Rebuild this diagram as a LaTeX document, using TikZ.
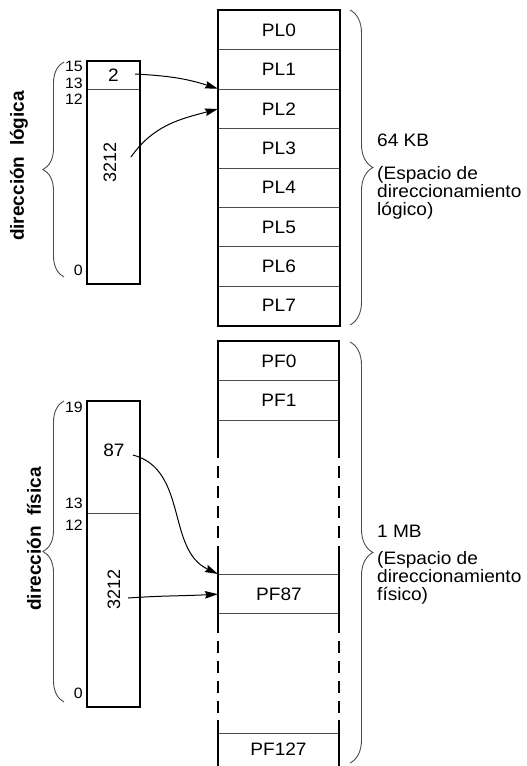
\documentclass[tikz,border=0pt]{standalone}
\usepackage{fontspec}
\setmainfont{Liberation Sans}
\newfontfamily\widefont{Liberation Sans}[FakeStretch=1.06]
\usetikzlibrary{arrows.meta,decorations.pathreplacing}
\begin{document}
\begin{tikzpicture}[x=1pt,y=-1pt,
  thickline/.style={line width=2.5pt, line join=miter},
  rowbox/.style={draw=black!70, line width=0.9pt, minimum width=121pt, minimum height=39.4pt, inner sep=0pt, anchor=north west, font=\widefont\fontsize{18}{18}\selectfont},
  fieldbox/.style={draw=black!70, line width=0.9pt, minimum width=52pt, inner sep=0pt, anchor=north west, font=\widefont\fontsize{18}{18}\selectfont},
  lbl/.style={font=\widefont\fontsize{18}{18}\selectfont, inner sep=0pt},
  num/.style={font=\widefont\fontsize{15}{15}\selectfont, inner sep=0pt, anchor=east},
  rot/.style={font=\fontsize{18}{18}\selectfont, rotate=90, inner sep=0pt},
  side/.style={font=\bfseries\fontsize{19}{19}\selectfont, rotate=90, inner sep=0pt},
  para/.style={font=\widefont\fontsize{18}{18}\selectfont, align=left, anchor=west, inner sep=0pt},
  arr/.style={line width=1pt, -{Stealth[length=13pt,width=7.5pt,inset=1.5pt]}},
  brc/.style={draw=black!70, line width=0.9pt, decorate, decoration={brace, amplitude=#1}},
  dashside/.style={line width=2.5pt, dash pattern=on 12pt off 8pt, dash phase=12pt}
]
\useasboundingbox (0,0) rectangle (527,766);

% logical pages
\foreach \i in {0,...,7} {
  \node[rowbox] (PL\i) at (218,{10+39.375*\i}) {PL\i};
}
\draw[thickline] (PL0.north west) rectangle (PL7.south east);

% physical pages
\node[rowbox] (PF0) at (218,341) {PF0};
\node[rowbox] (PF1) at (218,380.4) {PF1};
\node[rowbox] (PF87) at (218,574) {PF87};
\node[rowbox, minimum height=40pt] (PF127) at (218,733) {};
\node[lbl] (PF127txt) at (278.5,749) {PF127};
\coordinate (pTL) at (218,341);
\coordinate (pTR) at (339,341);
\draw[thickline] (218,458) -- (pTL) -- (pTR) -- (339,458);
\draw[dashside] (218,458) -- (218,548);
\draw[dashside] (339,458) -- (339,548);
\draw[thickline] (218,548) -- (218,633);
\draw[thickline] (339,548) -- (339,633);
\draw[dashside] (218,633) -- (218,720);
\draw[dashside] (339,633) -- (339,720);
\draw[thickline] (218,720) -- (218,770);
\draw[thickline] (339,720) -- (339,770);

% logical address
\node[fieldbox, minimum height=28pt] (LAhi) at (87,61) {2};
\node[fieldbox, minimum height=194pt] (LAlo) at (87,89) {};
\draw[thickline] (LAhi.north west) rectangle (LAlo.south east);
\node[rot] (LAtxt) at (110,162) {3212};
\node[num] (n15) at (83,66) {15};
\node[num] (n13) at (83,83) {13};
\node[num] (n12) at (83,99) {12};
\node[num] (n0a) at (83,270) {0};
\node[side] (lablog) at (19,166) {dirección\ \ lógica};
\draw[brc=21pt] (64,277) -- (64,62);

% physical address
\node[fieldbox, minimum height=112pt] (PAhi) at (87,401) {};
\node[fieldbox, minimum height=193pt] (PAlo) at (87,513) {};
\draw[thickline] (PAhi.north west) rectangle (PAlo.south east);
\node[lbl] (PAtxt1) at (114,450) {87};
\node[rot] (PAtxt2) at (114,589) {3212};
\node[num] (n19) at (83,407) {19};
\node[num] (n13b) at (83,503) {13};
\node[num] (n12b) at (83,525) {12};
\node[num] (n0b) at (83,693) {0};
\node[side] (labfis) at (34,539) {dirección\ \ física};
\draw[brc=21pt] (64,702) -- (64,401);

% right braces and texts
\draw[brc=23pt] (350,10) -- (350,325);
\draw[brc=23pt] (350,342) -- (350,763);
\node[lbl, anchor=west] (kb) at (377,140) {64 KB};
\node[para] (plog) at (377,193) {(Espacio de\\direccionamiento\\lógico)};
\node[lbl, anchor=west] (mb) at (377,531) {1 MB};
\node[para] (pfis) at (377,578) {(Espacio de\\direccionamiento\\físico)};

% arrows
\coordinate (a1s) at (135,74);
\coordinate (a2s) at (131,157);
\coordinate (a3s) at (133,455);
\coordinate (a4s) at (128,598);
\draw[arr] (a1s) to[out=-3, in=162] (PL2.north west);
\draw[arr] (a2s) to[out=55, in=195] (PL2.west);
\draw[arr] (a3s) to[out=-15, in=155] (PF87.north west);
\draw[arr] (a4s) to[out=4, in=183] (PF87.west);
\end{tikzpicture}
\end{document}
